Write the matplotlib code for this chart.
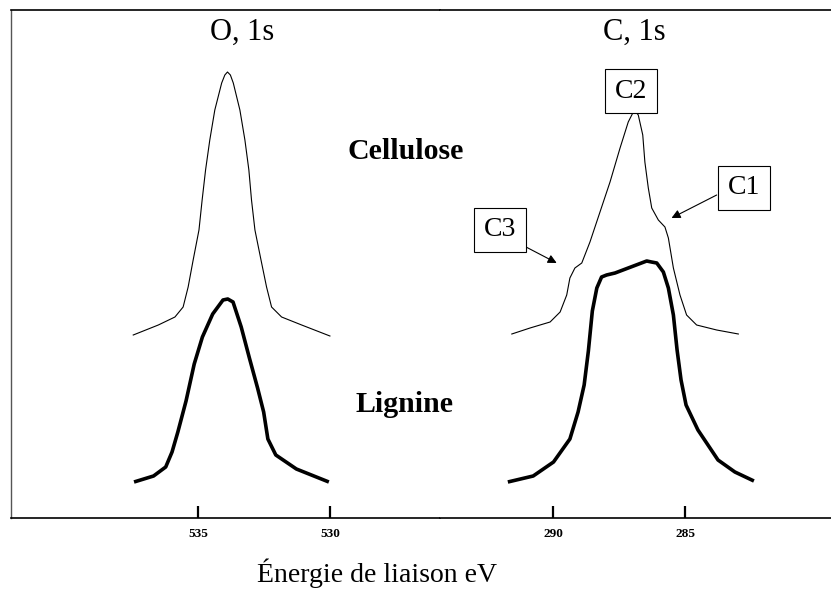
import numpy as np
import matplotlib
matplotlib.use("Agg")
import matplotlib.pyplot as plt

plt.rcParams['font.family'] = ['Liberation Serif', 'DejaVu Serif']

# O 1s spectra (binding energy eV, intensity a.u.)
o_cell_e = [537.45, 536.50, 535.87, 535.56, 535.37, 535.18, 534.96, 534.84, 534.71, 534.55,
            534.36, 534.10, 533.98, 533.88, 533.77, 533.66, 533.41, 533.22, 533.07, 532.97,
            532.84, 532.61, 532.40, 532.21, 531.83, 531.07, 530.00]
o_cell_i = [183, 193, 201, 211, 231, 258, 288, 318, 348, 378,
            408, 435, 443, 446, 443, 435, 408, 378, 348, 318,
            288, 258, 231, 211, 201, 193, 182]
o_lig_e = [537.42, 536.68, 536.22, 535.98, 535.76, 535.45, 535.14, 534.83, 534.44, 534.05,
           533.87, 533.67, 533.36, 533.05, 532.74, 532.51, 532.35, 532.05, 531.27, 530.04]
o_lig_i = [36, 42, 51, 66, 86, 117, 154, 181, 204, 218,
           219, 216, 191, 160, 130, 106, 79, 63, 49, 36]

# C 1s spectra
c_cell_e = [291.56, 290.87, 290.11, 289.73, 289.48, 289.36, 289.17, 288.91, 288.60, 288.22,
            287.84, 287.46, 287.15, 286.92, 286.77, 286.60, 286.52, 286.39, 286.26, 286.01,
            285.76, 285.63, 285.44, 285.19, 284.94, 284.56, 283.80, 282.98]
c_cell_i = [184, 190, 196, 206, 223, 240, 250, 255, 276, 306,
            336, 370, 396, 408, 403, 383, 356, 330, 310, 298,
            291, 280, 250, 223, 203, 193, 188, 184]
c_lig_e = [291.71, 290.75, 289.98, 289.36, 289.05, 288.82, 288.66, 288.51, 288.34, 288.16,
           287.97, 287.65, 287.05, 286.45, 286.27, 286.07, 285.82, 285.63, 285.44, 285.30,
           285.15, 284.96, 284.51, 283.75, 283.11, 282.39]
c_lig_i = [36, 42, 56, 79, 106, 133, 167, 207, 230, 241,
           243, 245, 251, 257, 256, 255, 246, 230, 203, 168,
           138, 113, 88, 58, 46, 37]

o_ticks = [535, 530]
c_ticks = [290, 285]

# component labels: name, box position, arrow start, arrow tip
comp_names = ['C2', 'C1', 'C3']
comp_box = [(287.05, 427), (282.77, 330), (292.01, 288)]
comp_arrow_from = [None, (283.80, 323), (291.53, 278)]
comp_arrow_to = [None, (285.51, 300), (289.86, 255)]

fig = plt.figure(figsize=(8.31, 5.94), dpi=100)
ax1 = fig.add_axes([11/831, 76/594, 429/831, 508/594])
ax2 = fig.add_axes([440/831, 76/594, 391/831, 508/594])

ax1.plot(o_cell_e, o_cell_i, color='black', lw=0.8)
ax1.plot(o_lig_e, o_lig_i, color='black', lw=2.6, solid_capstyle='butt')
ax2.plot(c_cell_e, c_cell_i, color='black', lw=0.8)
ax2.plot(c_lig_e, c_lig_i, color='black', lw=2.6, solid_capstyle='butt')

ax1.set_xlim(542.08, 525.83)
ax2.set_xlim(294.28, 279.47)
for ax, ticks in [(ax1, o_ticks), (ax2, c_ticks)]:
    ax.set_ylim(0, 508)
    ax.set_yticks([])
    ax.set_xticks(ticks)
    ax.set_xticklabels([str(t) for t in ticks], fontsize=9.5, fontweight='bold')
    ax.tick_params(axis='x', direction='in', length=9, width=1.6, pad=7)
    ax.spines['right'].set_visible(False)
    ax.spines['top'].set_linewidth(1.2)
    ax.spines['bottom'].set_linewidth(1.2)
ax1.spines['left'].set_linewidth(1.0)
ax1.spines['left'].set_color('#555555')
ax2.spines['left'].set_visible(False)

ax1.text(533.33, 486, 'O, 1s', ha='center', va='center', fontsize=22)
ax2.text(286.93, 486, 'C, 1s', ha='center', va='center', fontsize=22)

fig.text(406/831, 1 - 152/594, 'Cellulose', ha='center', va='center', fontsize=21.5, fontweight='bold')
fig.text(404/831, 1 - 405/594, 'Lignine', ha='center', va='center', fontsize=21.5, fontweight='bold')
fig.text(377/831, 1 - 573/594, 'Énergie de liaison eV', ha='center', va='center', fontsize=20)

for name, pos, a0, a1 in zip(comp_names, comp_box, comp_arrow_from, comp_arrow_to):
    if a0 is not None:
        ax2.annotate('', xy=a1, xytext=a0,
                     arrowprops=dict(arrowstyle='-|>', color='black', lw=0.8,
                                     mutation_scale=13, shrinkA=0, shrinkB=0))
    ax2.text(pos[0], pos[1], name, ha='center', va='center', fontsize=20, zorder=5,
             bbox=dict(boxstyle='square,pad=0.35', fc='white', ec='black', lw=0.8))

fig.savefig('out.png', dpi=100)
